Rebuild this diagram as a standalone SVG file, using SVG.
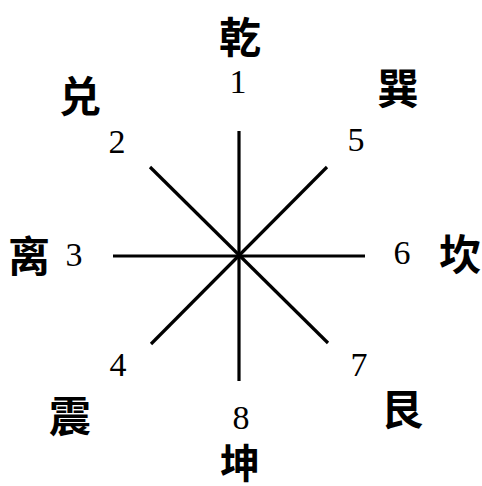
<svg xmlns="http://www.w3.org/2000/svg" width="482" height="486" viewBox="0 0 482 486">
<style>
.num{font-family:"Liberation Serif","Times New Roman",serif;font-size:34px;fill:#000;text-anchor:middle}
.gua{font-family:"Noto Sans CJK SC","Noto Sans CJK TC",sans-serif;font-size:42px;font-weight:bold;fill:#000;text-anchor:middle;dominant-baseline:central}
.ln{stroke:#000;stroke-width:3.2;stroke-linecap:butt}
</style>
<rect width="482" height="486" fill="#fff"/>
<g id="connectors">
<line class="ln" x1="239" y1="131" x2="239" y2="381"/>
<line class="ln" x1="113" y1="256" x2="365" y2="256"/>
<line class="ln" x1="150" y1="167" x2="328" y2="343"/>
<line class="ln" x1="327" y1="167" x2="151" y2="344"/>
</g>
<g id="node-qian"><text class="gua" x="240" y="34">乾</text><text class="num" x="238" y="93">1</text></g>
<g id="node-dui"><text class="gua" x="80" y="93">兑</text><text class="num" x="117" y="153">2</text></g>
<g id="node-li"><text class="gua" x="29" y="253">离</text><text class="num" x="74" y="266">3</text></g>
<g id="node-zhen"><text class="gua" x="70" y="413">震</text><text class="num" x="118" y="376">4</text></g>
<g id="node-xun"><text class="gua" x="398" y="85">巽</text><text class="num" x="356" y="151">5</text></g>
<g id="node-kan"><text class="gua" x="460" y="251">坎</text><text class="num" x="402" y="264">6</text></g>
<g id="node-gen"><text class="gua" x="402" y="406">艮</text><text class="num" x="359" y="376">7</text></g>
<g id="node-kun"><text class="gua" x="240" y="461" style="font-size:40px">坤</text><text class="num" x="241" y="429">8</text></g>
</svg>
